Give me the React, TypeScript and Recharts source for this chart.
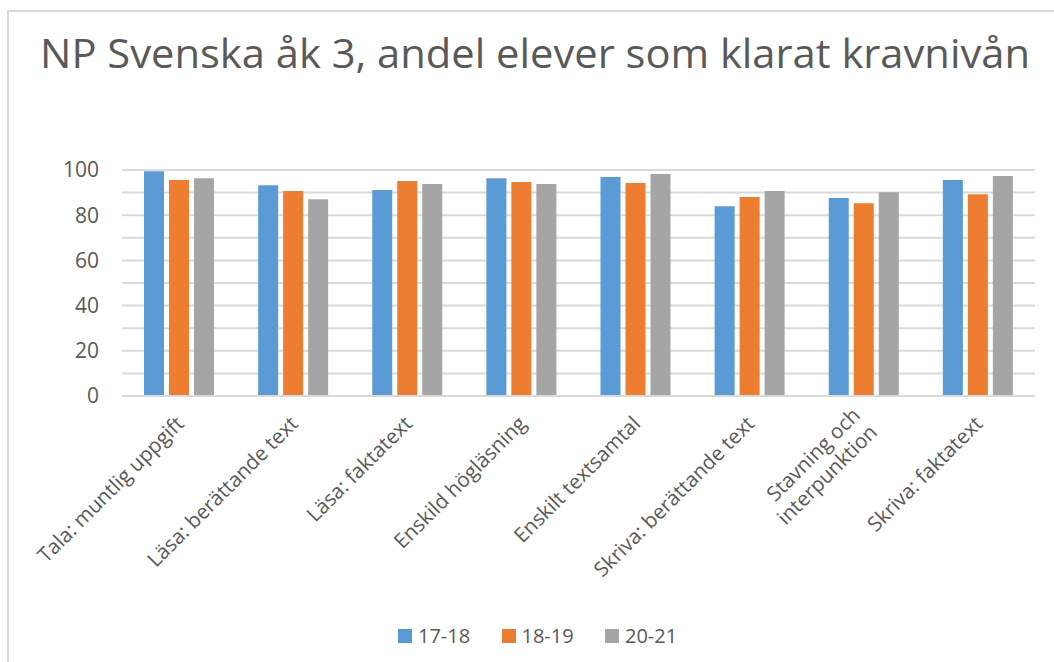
import React from 'react';
import { BarChart, Bar, XAxis, YAxis, CartesianGrid } from 'recharts';

const categories = [
  'Tala: muntlig uppgift',
  'Läsa: berättande text',
  'Läsa: faktatext',
  'Enskild högläsning',
  'Enskilt textsamtal',
  'Skriva: berättande text',
  'Stavning och\ninterpunktion',
  'Skriva: faktatext',
];
const y1718 = [99.5, 93.3, 91.1, 96.4, 96.9, 84.0, 87.6, 95.6];
const y1819 = [95.6, 90.7, 95.1, 94.7, 94.2, 88.0, 85.3, 89.3];
const y2021 = [96.4, 87.1, 93.8, 93.8, 98.2, 90.7, 90.2, 97.3];
const yTicks = [0, 10, 20, 30, 40, 50, 60, 70, 80, 90, 100];

const series = [
  { key: 'a', name: '17-18', color: '#5B9BD5' },
  { key: 'b', name: '18-19', color: '#ED7D31' },
  { key: 'c', name: '20-21', color: '#A5A5A5' },
];

const data = categories.map((name, i) => ({ name, a: y1718[i], b: y1819[i], c: y2021[i] }));

const FONT = '"Open Sans", sans-serif';
const TEXT = '#595959';

const CatTick = (props: any) => {
  const { x, y, payload } = props;
  const lines = String(payload.value).split('\n');
  const lh = 24;
  return (
    <g transform={`translate(${x + 6},${y + 21})`}>
      <text transform="rotate(-45)" textAnchor="end" fill={TEXT} fontSize={20.5} fontFamily={FONT}>
        {lines.map((l, i) => (
          <tspan key={i} x={0} y={(i - (lines.length - 1) / 2) * lh}>{l}</tspan>
        ))}
      </text>
    </g>
  );
};

export default function App() {
  return (
    <div style={{ position: 'absolute', left: 0, top: 0, width: 1054, height: 662, overflow: 'hidden', background: '#fff' }}>
      <div style={{ position: 'absolute', left: 7, top: 10, width: 1100, height: 700, border: '2px solid #d9d9d9' }} />
      <svg style={{ position: 'absolute', left: 0, top: 0 }} width={1054} height={110}>
        <text x={535} y={68} textAnchor="middle" fontFamily={FONT} fontSize={40} fill={TEXT}
          textLength={990} lengthAdjust="spacingAndGlyphs">
          NP Svenska åk 3, andel elever som klarat kravnivån
        </text>
      </svg>
      <div style={{ position: 'absolute', left: 0, top: 0 }}>
        <BarChart width={1054} height={662} data={data} barSize={20} barGap={5}
          margin={{ top: 170, right: 19, bottom: 0, left: 0 }}>
          <CartesianGrid vertical={false} stroke="#d9d9d9" strokeWidth={2} />
          <XAxis dataKey="name" interval={0} height={266} tick={<CatTick />} tickLine={false}
            axisLine={{ stroke: '#d9d9d9', strokeWidth: 2 }} />
          <YAxis width={122} domain={[0, 100]} ticks={yTicks} axisLine={false} tickLine={false}
            tickSize={0} tickMargin={23}
            tickFormatter={(v: number) => (v % 20 === 0 ? String(v) : '')}
            tick={{ fill: TEXT, fontSize: 21, fontFamily: FONT }} />
          {series.map((s) => (
            <Bar key={s.key} dataKey={s.key} name={s.name} fill={s.color} isAnimationActive={false} />
          ))}
        </BarChart>
      </div>
      {series.map((s, i) => (
        <div key={s.key} style={{ position: 'absolute', left: 398 + i * 103.5, top: 622, display: 'flex', alignItems: 'center', fontFamily: FONT, fontSize: 20, color: TEXT }}>
          <span style={{ display: 'inline-block', width: 14, height: 14, background: s.color, marginRight: 6 }} />
          <span>{s.name}</span>
        </div>
      ))}
    </div>
  );
}
